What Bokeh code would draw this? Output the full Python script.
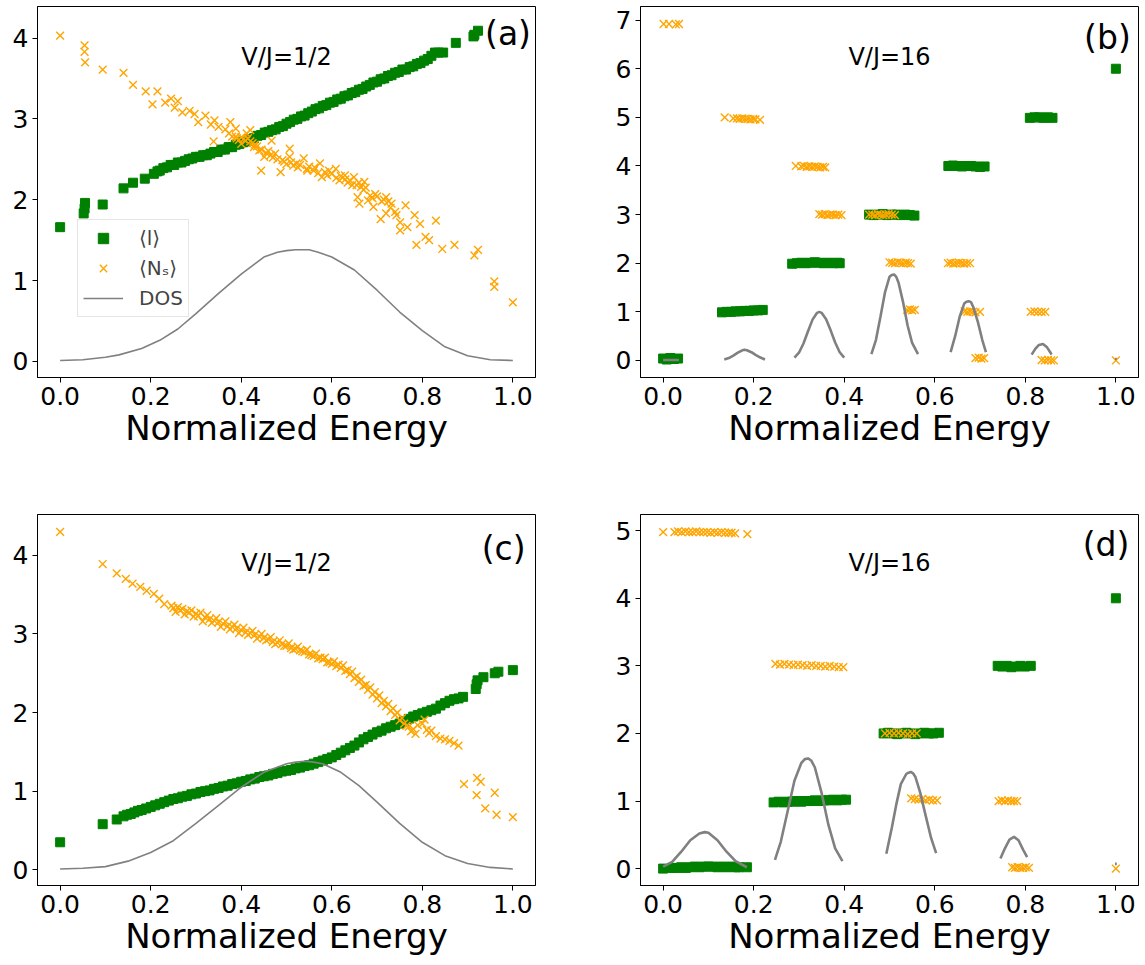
from bokeh.plotting import figure
from bokeh.models import Range1d, FixedTicker, Label, Legend, LegendItem, PrintfTickFormatter
from bokeh.layouts import column, row
from bokeh.embed import file_html
from bokeh.resources import INLINE

FONT = "DejaVu Sans"

# ---------------- panel (a): V/J = 1/2 ----------------
a_l_x = [0.0, 0.052, 0.054, 0.055, 0.094, 0.14, 0.161, 0.187, 0.207, 0.215,
         0.22, 0.228, 0.236, 0.244, 0.252, 0.26, 0.268, 0.276, 0.284, 0.292,
         0.3, 0.308, 0.316, 0.324, 0.332, 0.34, 0.348, 0.356, 0.364, 0.372,
         0.38, 0.388, 0.396, 0.404, 0.412, 0.42, 0.428, 0.436, 0.444, 0.452,
         0.46, 0.468, 0.476, 0.484, 0.492, 0.5, 0.508, 0.516, 0.524, 0.532,
         0.54, 0.548, 0.556, 0.564, 0.572, 0.58, 0.588, 0.596, 0.604, 0.612,
         0.62, 0.628, 0.636, 0.644, 0.652, 0.66, 0.668, 0.676, 0.684, 0.692,
         0.7, 0.708, 0.716, 0.724, 0.732, 0.74, 0.748, 0.756, 0.764, 0.772,
         0.78, 0.788, 0.796, 0.804, 0.812, 0.82, 0.828, 0.836, 0.846, 0.874,
         0.913, 0.915, 0.923]
a_l_y = [1.66, 1.83, 1.89, 1.96, 1.94, 2.14, 2.21, 2.26, 2.32, 2.35,
         2.36, 2.39, 2.40, 2.43, 2.43, 2.46, 2.46, 2.48, 2.50, 2.51,
         2.53, 2.53, 2.55, 2.55, 2.57, 2.59, 2.59, 2.62, 2.62, 2.65,
         2.65, 2.68, 2.69, 2.71, 2.72, 2.75, 2.76, 2.79, 2.80, 2.83,
         2.84, 2.86, 2.87, 2.90, 2.91, 2.94, 2.96, 2.99, 3.00, 3.03,
         3.04, 3.07, 3.09, 3.12, 3.13, 3.16, 3.17, 3.20, 3.21, 3.24,
         3.25, 3.28, 3.29, 3.32, 3.33, 3.36, 3.37, 3.40, 3.42, 3.45,
         3.46, 3.49, 3.50, 3.53, 3.54, 3.57, 3.58, 3.61, 3.61, 3.64,
         3.65, 3.68, 3.69, 3.72, 3.74, 3.78, 3.82, 3.82, 3.82, 3.94,
         4.02, 4.04, 4.09]
a_n_x = [0.0, 0.054, 0.054, 0.055, 0.094, 0.14, 0.161, 0.189, 0.215, 0.204,
         0.232, 0.245, 0.26, 0.253, 0.27, 0.286, 0.297, 0.305, 0.321, 0.333,
         0.341, 0.35, 0.339, 0.365, 0.376, 0.373, 0.388, 0.388, 0.4, 0.412,
         0.42, 0.428, 0.44, 0.451, 0.444, 0.467, 0.475, 0.487, 0.491, 0.507,
         0.507, 0.522, 0.538, 0.546, 0.562, 0.574, 0.578, 0.594, 0.609, 0.617,
         0.629, 0.645, 0.649, 0.657, 0.665, 0.661, 0.672, 0.68, 0.692, 0.696,
         0.708, 0.72, 0.72, 0.732, 0.743, 0.751, 0.751, 0.763, 0.767, 0.783,
         0.787, 0.795, 0.807, 0.815, 0.83, 0.844, 0.871, 0.915, 0.923, 0.959,
         0.959, 1.0,
         0.38, 0.39, 0.395, 0.40, 0.405, 0.41, 0.415, 0.42, 0.425, 0.43,
         0.435, 0.445, 0.455, 0.46, 0.465, 0.47, 0.48, 0.495, 0.50, 0.51,
         0.515, 0.525, 0.53, 0.545, 0.55, 0.56, 0.57, 0.585, 0.59, 0.60,
         0.61, 0.62, 0.63, 0.635, 0.64, 0.655, 0.66, 0.67, 0.675, 0.685,
         0.69, 0.70, 0.71, 0.715, 0.725, 0.73, 0.74]
a_n_y = [4.03, 3.91, 3.83, 3.70, 3.61, 3.57, 3.42, 3.34, 3.34, 3.18,
         3.20, 3.25, 3.22, 3.14, 3.08, 3.10, 3.06, 2.96, 3.04, 2.93,
         2.98, 2.90, 2.72, 2.87, 2.96, 2.82, 2.88, 2.78, 2.69, 2.82,
         2.86, 2.65, 2.61, 2.53, 2.36, 2.73, 2.57, 2.34, 2.49, 2.63,
         2.53, 2.45, 2.51, 2.36, 2.40, 2.45, 2.28, 2.36, 2.38, 2.24,
         2.30, 2.18, 2.28, 2.03, 2.16, 1.95, 2.22, 1.99, 1.91, 2.07,
         1.76, 2.03, 1.83, 1.95, 1.81, 1.72, 1.62, 1.93, 1.66, 1.81,
         1.44, 1.70, 1.54, 1.50, 1.74, 1.39, 1.44, 1.31, 1.38, 0.99,
         0.92, 0.73,
         2.78, 2.76, 2.74, 2.77, 2.75, 2.73, 2.76, 2.72, 2.70, 2.68,
         2.66, 2.62, 2.58, 2.60, 2.55, 2.52, 2.50, 2.47, 2.44, 2.46,
         2.42, 2.40, 2.43, 2.38, 2.41, 2.36, 2.33, 2.34, 2.30, 2.32,
         2.27, 2.29, 2.25, 2.21, 2.24, 2.18, 2.21, 2.12, 2.15, 2.05,
         2.02, 2.04, 1.98, 2.00, 1.98, 1.90, 1.85]
a_dos_x = [0.0, 0.05, 0.1, 0.13, 0.18, 0.22, 0.26, 0.3, 0.35, 0.4, 0.45,
           0.48, 0.5, 0.52, 0.55, 0.57, 0.6, 0.65, 0.7, 0.75, 0.8, 0.85,
           0.9, 0.95, 1.0]
a_dos_y = [0.01, 0.02, 0.05, 0.08, 0.16, 0.26, 0.40, 0.59, 0.84, 1.08, 1.29,
           1.35, 1.37, 1.38, 1.38, 1.35, 1.29, 1.13, 0.88, 0.61, 0.38, 0.18,
           0.07, 0.02, 0.01]

# ---------------- panel (b): V/J = 16 ----------------
b_l_x = [0.0, 0.008, 0.016, 0.024, 0.033,
         0.13, 0.14, 0.15, 0.16, 0.17, 0.18, 0.19, 0.20, 0.21, 0.22,
         0.285, 0.295, 0.305, 0.315, 0.325, 0.335, 0.345, 0.355, 0.365, 0.375, 0.385, 0.39,
         0.455, 0.465, 0.475, 0.485, 0.495, 0.505, 0.515, 0.525, 0.535, 0.545, 0.555,
         0.63, 0.64, 0.65, 0.66, 0.67, 0.68, 0.69, 0.70, 0.71,
         0.81, 0.82, 0.83, 0.84, 0.85, 0.86,
         1.0]
b_l_y = [0.04, 0.02, 0.05, 0.03, 0.04,
         0.99, 1.00, 1.00, 1.01, 1.01, 1.02, 1.02, 1.03, 1.03, 1.04,
         1.99, 2.00, 2.01, 2.00, 2.01, 2.02, 2.01, 2.00, 2.01, 2.00, 2.01, 2.00,
         3.00, 2.99, 3.00, 3.01, 2.99, 3.00, 3.00, 2.99, 3.00, 2.99, 2.98,
         4.00, 4.01, 4.00, 3.99, 4.00, 4.00, 3.99, 3.98, 3.99,
         4.99, 5.00, 5.00, 4.99, 5.00, 4.99,
         6.0]
b_n_x = [0.001, 0.013, 0.028, 0.035,
         0.136, 0.155, 0.163, 0.169, 0.175, 0.181, 0.187, 0.193, 0.199, 0.204, 0.214,
         0.293, 0.305, 0.311, 0.317, 0.323, 0.329, 0.335, 0.341, 0.347, 0.353, 0.358,
         0.345, 0.351, 0.357, 0.363, 0.369, 0.375, 0.381, 0.387, 0.394,
         0.455, 0.462, 0.468, 0.474, 0.48, 0.486, 0.492, 0.498, 0.505, 0.512,
         0.50, 0.506, 0.512, 0.518, 0.524, 0.53, 0.536, 0.541, 0.547,
         0.629, 0.635, 0.641, 0.647, 0.653, 0.659, 0.665, 0.671, 0.678,
         0.539, 0.545, 0.55, 0.556,
         0.666, 0.672, 0.678, 0.684, 0.69, 0.70,
         0.812, 0.82, 0.828, 0.836, 0.844,
         0.69, 0.697, 0.703, 0.709,
         0.836, 0.843, 0.85, 0.857, 0.863,
         1.0]
b_n_y = [6.92, 6.92, 6.91, 6.92,
         5.00, 4.98, 4.98, 4.97, 4.98, 4.97, 4.97, 4.96, 4.97, 4.96, 4.95,
         4.00, 3.99, 4.00, 3.98, 3.99, 3.98, 3.99, 3.98, 3.97, 3.98, 3.97,
         3.01, 3.00, 3.01, 2.99, 3.00, 3.00, 2.99, 3.00, 2.99,
         3.00, 3.00, 2.99, 3.01, 3.00, 2.99, 3.00, 3.01, 3.00, 2.99,
         2.02, 2.01, 2.00, 2.02, 2.01, 2.00, 2.01, 2.00, 1.99,
         2.00, 2.01, 1.99, 2.00, 2.01, 2.00, 1.99, 2.00, 2.00,
         1.04, 1.05, 1.03, 1.04,
         1.01, 1.00, 1.01, 1.00, 0.99, 1.00,
         1.00, 1.01, 1.00, 1.00, 1.00,
         0.05, 0.06, 0.04, 0.05,
         0.01, 0.00, 0.01, 0.00, 0.00,
         0.0]
b_dos_x = [[0.0, 0.035],
           [0.135, 0.145, 0.155, 0.165, 0.175, 0.18, 0.185, 0.195, 0.205, 0.215, 0.225],
           [0.29, 0.30, 0.31, 0.32, 0.33, 0.34, 0.345, 0.35, 0.36, 0.37, 0.38, 0.39, 0.40],
           [0.46, 0.47, 0.48, 0.49, 0.50, 0.505, 0.51, 0.515, 0.52, 0.53, 0.54, 0.55, 0.563],
           [0.635, 0.645, 0.655, 0.665, 0.67, 0.675, 0.68, 0.685, 0.695, 0.705, 0.713],
           [0.814, 0.822, 0.83, 0.839, 0.848, 0.855, 0.858],
           [0.998, 1.002]]
b_dos_y = [[0.01, 0.01],
           [0.02, 0.05, 0.10, 0.16, 0.21, 0.22, 0.21, 0.17, 0.11, 0.06, 0.02],
           [0.06, 0.16, 0.35, 0.60, 0.84, 0.98, 1.00, 0.98, 0.85, 0.62, 0.37, 0.17, 0.06],
           [0.13, 0.42, 0.90, 1.40, 1.72, 1.76, 1.77, 1.72, 1.60, 1.20, 0.72, 0.36, 0.13],
           [0.17, 0.50, 0.90, 1.17, 1.21, 1.22, 1.20, 1.10, 0.80, 0.42, 0.17],
           [0.12, 0.24, 0.32, 0.34, 0.27, 0.17, 0.12],
           [0.03, 0.03]]

# ---------------- panel (c): V/J = 1/2 ----------------
c_l_x = [0.0, 0.094, 0.125, 0.14, 0.148, 0.156, 0.164, 0.172, 0.18, 0.19,
         0.2, 0.21, 0.22, 0.23, 0.24, 0.25, 0.26, 0.27, 0.28, 0.29,
         0.3, 0.31, 0.32, 0.33, 0.34, 0.35, 0.36, 0.37, 0.38, 0.39,
         0.4, 0.41, 0.42, 0.43, 0.44, 0.45, 0.46, 0.47, 0.48, 0.49,
         0.5, 0.51, 0.52, 0.53, 0.54, 0.55, 0.56, 0.57, 0.58, 0.59,
         0.6, 0.61, 0.62, 0.63, 0.64, 0.65, 0.66, 0.67, 0.68, 0.69,
         0.7, 0.71, 0.72, 0.73, 0.74, 0.75, 0.76, 0.77, 0.78, 0.79,
         0.8, 0.81, 0.82, 0.83, 0.84, 0.85, 0.86, 0.87, 0.88, 0.89,
         0.918, 0.92, 0.922, 0.935, 0.96, 0.968, 1.0]
c_l_y = [0.35, 0.58, 0.64, 0.68, 0.70, 0.71, 0.73, 0.75, 0.76, 0.78,
         0.80, 0.82, 0.84, 0.86, 0.88, 0.90, 0.91, 0.93, 0.94, 0.96,
         0.97, 0.99, 1.00, 1.01, 1.03, 1.04, 1.06, 1.07, 1.09, 1.10,
         1.12, 1.13, 1.15, 1.16, 1.18, 1.19, 1.20, 1.22, 1.23, 1.25,
         1.26, 1.27, 1.29, 1.30, 1.32, 1.33, 1.35, 1.37, 1.39, 1.41,
         1.43, 1.46, 1.49, 1.52, 1.55, 1.58, 1.62, 1.66, 1.69, 1.72,
         1.75, 1.77, 1.80, 1.82, 1.84, 1.86, 1.89, 1.92, 1.95, 1.97,
         1.99, 2.01, 2.03, 2.05, 2.09, 2.12, 2.15, 2.17, 2.18, 2.20,
         2.30, 2.36, 2.41, 2.45, 2.50, 2.52, 2.54]
c_n_x = [0.0, 0.094, 0.125, 0.145, 0.16, 0.177, 0.191, 0.207, 0.219, 0.23,
         0.246, 0.25, 0.26, 0.265, 0.27, 0.28, 0.285, 0.29, 0.3, 0.305,
         0.31, 0.32, 0.325, 0.33, 0.34, 0.345, 0.35, 0.36, 0.365, 0.37,
         0.38, 0.385, 0.39, 0.4, 0.405, 0.41, 0.42, 0.425, 0.43, 0.44,
         0.445, 0.45, 0.46, 0.465, 0.47, 0.48, 0.485, 0.49, 0.5, 0.505,
         0.51, 0.52, 0.525, 0.53, 0.54, 0.545, 0.55, 0.56, 0.565, 0.57,
         0.58, 0.585, 0.59, 0.6, 0.605, 0.61, 0.62, 0.625, 0.63, 0.64,
         0.645, 0.65, 0.66, 0.665, 0.67, 0.68, 0.685, 0.69, 0.7, 0.705,
         0.71, 0.72, 0.725, 0.73, 0.74, 0.745, 0.75, 0.755, 0.76, 0.77,
         0.775, 0.78, 0.785, 0.79, 0.8, 0.805, 0.81, 0.815, 0.82, 0.83,
         0.84, 0.85, 0.86, 0.87, 0.88, 0.892, 0.921, 0.929, 0.92, 0.939,
         0.96, 0.964, 1.0,
         0.255, 0.275, 0.295, 0.315, 0.335, 0.355, 0.375, 0.395, 0.415, 0.435,
         0.455, 0.475, 0.495, 0.515, 0.535, 0.555, 0.575, 0.595, 0.615, 0.635,
         0.655, 0.675, 0.695, 0.715, 0.735, 0.765]
c_n_y = [4.30, 3.89, 3.77, 3.70, 3.64, 3.60, 3.55, 3.51, 3.45, 3.38,
         3.36, 3.33, 3.34, 3.30, 3.32, 3.29, 3.27, 3.30, 3.26, 3.23,
         3.27, 3.21, 3.24, 3.19, 3.17, 3.20, 3.15, 3.13, 3.16, 3.10,
         3.09, 3.12, 3.07, 3.05, 3.08, 3.02, 3.01, 3.04, 2.99, 2.97,
         3.00, 2.95, 2.93, 2.96, 2.90, 2.89, 2.92, 2.87, 2.85, 2.88,
         2.82, 2.81, 2.84, 2.79, 2.77, 2.80, 2.74, 2.72, 2.75, 2.69,
         2.68, 2.70, 2.64, 2.62, 2.65, 2.59, 2.57, 2.60, 2.53, 2.49,
         2.52, 2.44, 2.39, 2.42, 2.34, 2.29, 2.32, 2.23, 2.18, 2.22,
         2.12, 2.08, 2.11, 2.02, 1.97, 2.00, 1.90, 1.93, 1.86, 1.82,
         1.76, 1.79, 1.73, 1.84, 1.86, 1.91, 1.78, 1.74, 1.77, 1.70,
         1.67, 1.66, 1.64, 1.61, 1.58, 1.09, 1.17, 1.12, 0.95, 0.78,
         0.98, 0.70, 0.67,
         3.28, 3.25, 3.22, 3.16, 3.14, 3.09, 3.06, 3.01, 2.99, 2.94,
         2.92, 2.87, 2.85, 2.80, 2.78, 2.73, 2.70, 2.64, 2.61, 2.54,
         2.46, 2.35, 2.26, 2.15, 2.05, 1.83]
c_dos_x = [0.0, 0.05, 0.1, 0.15, 0.2, 0.25, 0.3, 0.35, 0.4, 0.45, 0.5,
           0.52, 0.54, 0.56, 0.58, 0.62, 0.66, 0.7, 0.75, 0.8, 0.85, 0.9, 0.95, 1.0]
c_dos_y = [0.01, 0.02, 0.04, 0.11, 0.22, 0.37, 0.59, 0.82, 1.05, 1.24, 1.35,
           1.37, 1.38, 1.37, 1.35, 1.24, 1.07, 0.86, 0.59, 0.35, 0.18, 0.08, 0.03, 0.01]

# ---------------- panel (d): V/J = 16 ----------------
d_l_x = [0.0, 0.02, 0.03, 0.04, 0.05, 0.06, 0.07, 0.08, 0.09, 0.10, 0.11, 0.12,
         0.13, 0.14, 0.15, 0.16, 0.167, 0.185,
         0.244, 0.255, 0.265, 0.275, 0.285, 0.295, 0.305, 0.315, 0.325, 0.335,
         0.345, 0.355, 0.365, 0.375, 0.385, 0.395, 0.404,
         0.487, 0.497, 0.507, 0.517, 0.527, 0.537, 0.547, 0.557, 0.567, 0.577,
         0.587, 0.597, 0.609,
         0.739, 0.749, 0.759, 0.769, 0.779, 0.789, 0.799, 0.812,
         1.0]
d_l_y = [0.0, 0.01, 0.01, 0.02, 0.01, 0.02, 0.03, 0.02, 0.03, 0.03, 0.03, 0.02,
         0.03, 0.02, 0.03, 0.02, 0.02, 0.02,
         0.98, 0.99, 0.98, 0.99, 0.99, 1.00, 0.99, 1.00, 1.00, 1.01,
         1.00, 1.01, 1.01, 1.02, 1.01, 1.02, 1.02,
         2.00, 2.01, 2.00, 1.99, 2.00, 2.01, 2.00, 1.99, 2.00, 2.01,
         2.00, 2.00, 2.01,
         3.00, 2.99, 3.00, 2.98, 2.99, 3.00, 2.99, 3.00,
         4.0]
d_n_x = [0.0, 0.025, 0.033, 0.041, 0.049, 0.057, 0.065, 0.073, 0.081, 0.089,
         0.097, 0.105, 0.113, 0.121, 0.129, 0.137, 0.145, 0.151, 0.159, 0.186,
         0.248, 0.258, 0.268, 0.278, 0.288, 0.298, 0.308, 0.318, 0.328, 0.338,
         0.348, 0.358, 0.368, 0.378, 0.388, 0.398,
         0.49, 0.50, 0.51, 0.52, 0.53, 0.54, 0.55, 0.56,
         0.548, 0.556, 0.564, 0.572, 0.58, 0.588, 0.596, 0.605,
         0.741, 0.748, 0.755, 0.762, 0.769, 0.775, 0.782,
         0.771, 0.777, 0.783, 0.789, 0.795, 0.801, 0.808,
         1.0]
d_n_y = [4.98, 4.98, 4.99, 4.98, 4.99, 4.98, 4.98, 4.99, 4.98, 4.98,
         4.98, 4.97, 4.98, 4.97, 4.98, 4.97, 4.97, 4.97, 4.96, 4.95,
         3.03, 3.02, 3.03, 3.02, 3.01, 3.02, 3.01, 3.00, 3.01, 3.00,
         3.00, 2.99, 3.00, 2.99, 2.98, 2.98,
         2.00, 2.01, 2.00, 2.01, 2.00, 1.99, 2.00, 2.00,
         1.04, 1.03, 1.02, 1.03, 1.01, 1.02, 1.01, 1.01,
         1.00, 1.01, 1.00, 1.01, 1.00, 1.00, 1.00,
         0.02, 0.01, 0.02, 0.01, 0.01, 0.02, 0.01,
         0.0]
d_dos_x = [[0.0, 0.02, 0.04, 0.06, 0.08, 0.092, 0.10, 0.12, 0.14, 0.16, 0.185],
           [0.247, 0.26, 0.275, 0.29, 0.305, 0.313, 0.32, 0.327, 0.335, 0.35, 0.365, 0.38, 0.396],
           [0.493, 0.505, 0.515, 0.525, 0.537, 0.542, 0.547, 0.552, 0.557, 0.568, 0.58, 0.592, 0.603],
           [0.745, 0.755, 0.765, 0.775, 0.785, 0.795, 0.804],
           [0.998, 1.002]]
d_dos_y = [[0.03, 0.10, 0.25, 0.42, 0.52, 0.54, 0.53, 0.42, 0.25, 0.11, 0.02],
           [0.13, 0.40, 0.85, 1.30, 1.56, 1.62, 1.63, 1.60, 1.50, 1.12, 0.65, 0.30, 0.11],
           [0.22, 0.60, 0.95, 1.25, 1.40, 1.42, 1.43, 1.41, 1.36, 1.12, 0.78, 0.45, 0.23],
           [0.15, 0.30, 0.43, 0.47, 0.42, 0.28, 0.17],
           [0.07, 0.07]]

x_ticks = [0.0, 0.2, 0.4, 0.6, 0.8, 1.0]
x_label = "Normalized Energy"
legend_labels = ["⟨l⟩", "⟨Nₛ⟩", "DOS"]


def make_fig(w, h, yr, yticks, bl, br, bt, bb):
    p = figure(width=w, height=h, output_backend="svg", toolbar_location=None,
               x_range=Range1d(-0.05, 1.05), y_range=Range1d(*yr),
               min_border_left=bl, min_border_right=br,
               min_border_top=bt, min_border_bottom=bb)
    p.grid.visible = False
    p.outline_line_color = "black"
    p.outline_line_width = 1
    p.outline_line_alpha = 1
    p.background_fill_color = "white"
    p.border_fill_color = "white"
    for ax in (p.xaxis, p.yaxis):
        ax.major_tick_out = 5
        ax.major_tick_in = 0
        ax.minor_tick_out = 0
        ax.minor_tick_in = 0
        ax.major_label_text_font = FONT
        ax.major_label_text_font_size = "25px"
        ax.major_label_text_color = "black"
        ax.axis_line_color = "black"
        ax.major_tick_line_color = "black"
        ax.major_label_standoff = 4
    p.xaxis.ticker = FixedTicker(ticks=x_ticks)
    p.xaxis.formatter = PrintfTickFormatter(format="%.1f")
    p.yaxis.ticker = FixedTicker(ticks=yticks)
    p.xaxis.axis_label = x_label
    p.xaxis.axis_label_text_font = FONT
    p.xaxis.axis_label_text_font_size = "34px"
    p.xaxis.axis_label_text_font_style = "normal"
    p.xaxis.axis_label_text_color = "black"
    p.xaxis.axis_label_standoff = 0
    return p


def add_data(p, lx, ly, nx, ny, dx, dy, multi, dos_w):
    g = p.scatter(lx, ly, marker="square", size=9, fill_color="green",
                  line_color="green")
    o = p.scatter(nx, ny, marker="x", size=11, line_color="orange",
                  line_width=1.4)
    if multi:
        d = p.multi_line(dx, dy, line_color="gray", line_width=dos_w)
    else:
        d = p.line(dx, dy, line_color="gray", line_width=dos_w)
    return g, o, d


def add_texts(p, vj, vy, tag, tx, ty):
    p.add_layout(Label(x=0.5, y=vy, text=vj, text_align="center",
                       text_baseline="alphabetic", text_font=FONT,
                       text_font_size="24px", text_color="black"))
    p.add_layout(Label(x=tx, y=ty, text=tag, text_align="right",
                       text_baseline="middle", text_font=FONT,
                       text_font_size="33px", text_color="black"))


pa = make_fig(590, 490, (-0.2, 4.39), [0, 1, 2, 3, 4], 37, 55, 6, 113)
ga, oa, da = add_data(pa, a_l_x, a_l_y, a_n_x, a_n_y, a_dos_x, a_dos_y, False, 1.6)
add_texts(pa, "V/J=1/2", 3.76, "(a)", 1.04, 4.06)
leg = Legend(items=[LegendItem(label=legend_labels[0], renderers=[ga]),
                    LegendItem(label=legend_labels[1], renderers=[oa]),
                    LegendItem(label=legend_labels[2], renderers=[da])],
             location=(40, 60))
leg.label_text_font = FONT
leg.label_text_font_size = "20px"
leg.glyph_width = 40
leg.glyph_height = 26
leg.label_height = 26
leg.spacing = 4
leg.padding = 5
leg.margin = 0
leg.label_standoff = 16
leg.border_line_color = "#cccccc"
leg.border_line_width = 1
leg.background_fill_alpha = 0.8
pa.add_layout(leg)

pb = make_fig(555, 490, (-0.35, 7.28), [0, 1, 2, 3, 4, 5, 6, 7], 50, 7, 6, 113)
add_data(pb, b_l_x, b_l_y, b_n_x, b_n_y, b_dos_x, b_dos_y, True, 2.6)
add_texts(pb, "V/J=16", 6.25, "(b)", 1.033, 6.64)

pc = make_fig(590, 475, (-0.2, 4.52), [0, 1, 2, 3, 4], 37, 55, 24, 80)
add_data(pc, c_l_x, c_l_y, c_n_x, c_n_y, c_dos_x, c_dos_y, False, 1.6)
add_texts(pc, "V/J=1/2", 3.9, "(c)", 1.028, 4.09)

pd_ = make_fig(555, 475, (-0.25, 5.24), [0, 1, 2, 3, 4, 5], 50, 7, 24, 80)
add_data(pd_, d_l_x, d_l_y, d_n_x, d_n_y, d_dos_x, d_dos_y, True, 2.6)
add_texts(pd_, "V/J=16", 4.52, "(d)", 1.03, 4.8)

layout = column(row(pa, pb), row(pc, pd_))
open("out.html", "w").write(file_html(layout, INLINE))
